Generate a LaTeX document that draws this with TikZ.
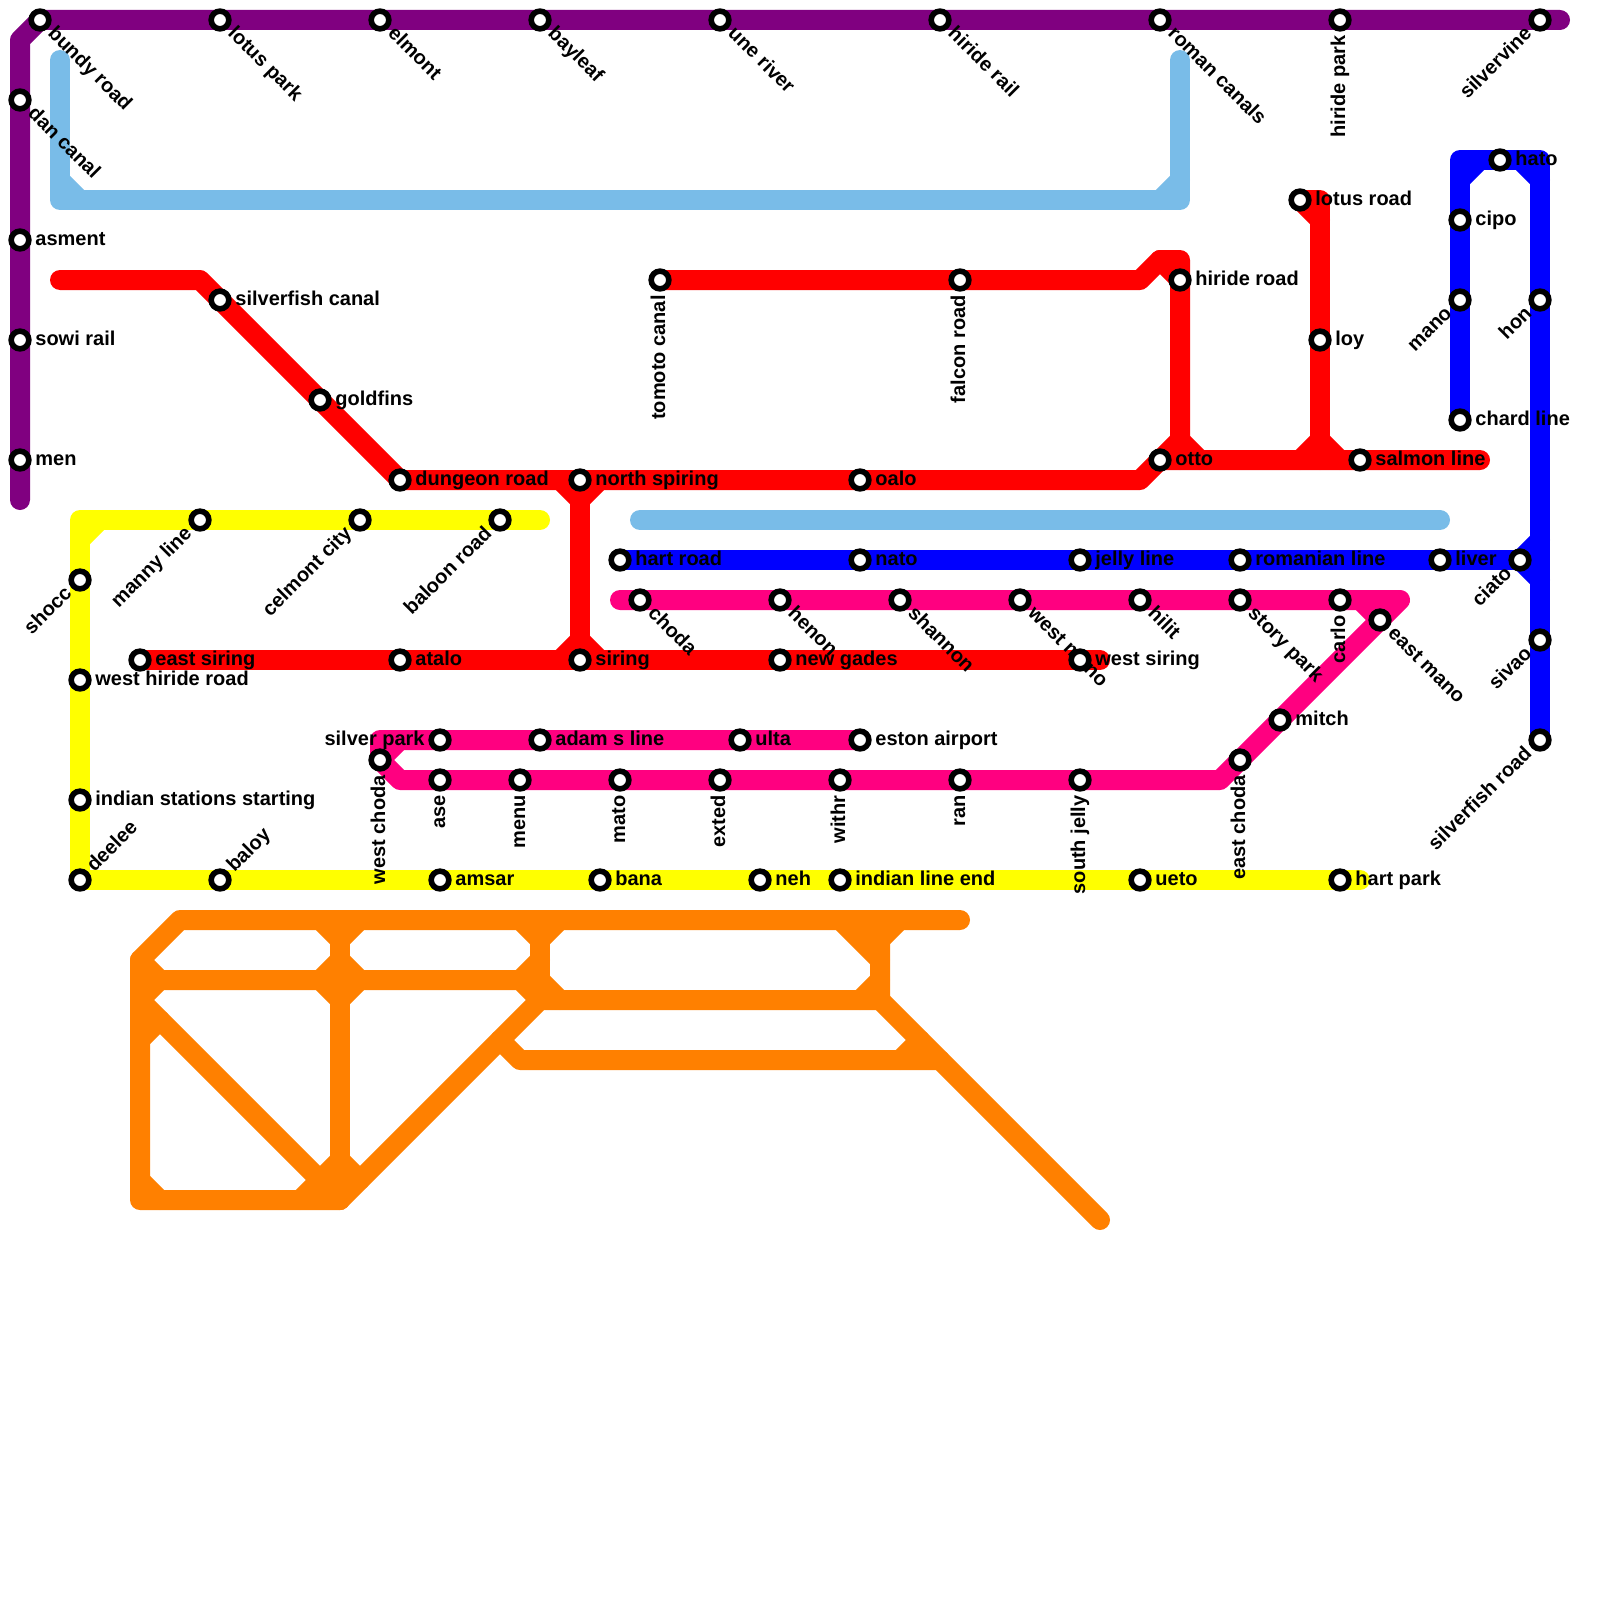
\documentclass[tikz,border=0pt]{standalone}
\usepackage{fontspec}
\setmainfont{Liberation Sans}
\usetikzlibrary{backgrounds}
\pgfdeclarelayer{stopLayer}
\pgfsetlayers{background,main,stopLayer}
\definecolor{mapPurple}{HTML}{800080}
\definecolor{mapSky}{HTML}{79BCE8}
\definecolor{mapRed}{HTML}{FF0000}
\definecolor{mapYellow}{HTML}{FFFF00}
\definecolor{mapBlue}{HTML}{0000FF}
\definecolor{mapPink}{HTML}{FF0080}
\definecolor{mapOrange}{HTML}{FF8000}
\newcommand{\stn}[4]{%
  \begin{pgfonlayer}{stopLayer}
    \node[stop] (#1) at (#2) {};
  \end{pgfonlayer}
  \node[#3] (#1Lbl) at (#1.center) {#4};}

\begin{document}
\begin{tikzpicture}[x=10pt, y=-10pt,
  route/.style={line width=10pt, line cap=round, line join=round},
  stop/.style={circle, draw=black, fill=white, line width=2.8pt, inner sep=0pt, minimum size=8.85pt},
  lbl/.style={font=\fontsize{10}{12}\selectfont\bfseries, text=black, inner sep=0pt},
  lblE/.style={lbl, anchor=base west, xshift=7.5pt, yshift=-2.6pt},
  lblW/.style={lbl, anchor=base east, xshift=-7.5pt, yshift=-2.6pt},
  lblSE/.style={lbl, rotate=-45, anchor=base west, xshift=7.5pt, yshift=-2.6pt},
  lblNE/.style={lbl, rotate=45, anchor=base west, xshift=7.5pt, yshift=-2.6pt},
  lblSW/.style={lbl, rotate=45, anchor=base east, xshift=-7.5pt, yshift=-2.6pt},
  lblS/.style={lbl, rotate=90, anchor=base east, xshift=-7.5pt, yshift=-2.6pt}]
\useasboundingbox (0,0) rectangle (80,80);

% purple
\stn{bundy}{2,1}{lblSE}{bundy road}
\stn{lotusPark}{11,1}{lblSE}{lotus park}
\stn{elmont}{19,1}{lblSE}{elmont}
\stn{bayleaf}{27,1}{lblSE}{bayleaf}
\stn{uneRiver}{36,1}{lblSE}{une river}
\stn{hirideRail}{47,1}{lblSE}{hiride rail}
\stn{romanCanals}{58,1}{lblSE}{roman canals}
\stn{hiridePark}{67,1}{lblS}{hiride park}
\stn{silvervine}{77,1}{lblSW}{silvervine}
\stn{danCanal}{1,5}{lblSE}{dan canal}
\stn{asment}{1,12}{lblE}{asment}
\stn{sowiRail}{1,17}{lblE}{sowi rail}
\stn{men}{1,23}{lblE}{men}
% red
\stn{silverfishCanal}{11,15}{lblE}{silverfish canal}
\stn{goldfins}{16,20}{lblE}{goldfins}
\stn{dungeonRoad}{20,24}{lblE}{dungeon road}
\stn{northSpiring}{29,24}{lblE}{north spiring}
\stn{oalo}{43,24}{lblE}{oalo}
\stn{otto}{58,23}{lblE}{otto}
\stn{salmonLine}{68,23}{lblE}{salmon line}
\stn{tomotoCanal}{33,14}{lblS}{tomoto canal}
\stn{falconRoad}{48,14}{lblS}{falcon road}
\stn{hirideRoad}{59,14}{lblE}{hiride road}
\stn{lotusRoad}{65,10}{lblE}{lotus road}
\stn{loy}{66,17}{lblE}{loy}
\stn{eastSiring}{7,33}{lblE}{east siring}
\stn{atalo}{20,33}{lblE}{atalo}
\stn{siring}{29,33}{lblE}{siring}
\stn{newGades}{39,33}{lblE}{new gades}
\stn{westSiring}{54,33}{lblE}{west siring}
% yellow
\stn{mannyLine}{10,26}{lblSW}{manny line}
\stn{celmontCity}{18,26}{lblSW}{celmont city}
\stn{baloonRoad}{25,26}{lblSW}{baloon road}
\stn{shocc}{4,29}{lblSW}{shocc}
\stn{westHirideRoad}{4,34}{lblE}{west hiride road}
\stn{indianStations}{4,40}{lblE}{indian stations starting}
\stn{deelee}{4,44}{lblNE}{deelee}
\stn{baloy}{11,44}{lblNE}{baloy}
\stn{amsar}{22,44}{lblE}{amsar}
\stn{bana}{30,44}{lblE}{bana}
\stn{neh}{38,44}{lblE}{neh}
\stn{indianLineEnd}{42,44}{lblE}{indian line end}
\stn{ueto}{57,44}{lblE}{ueto}
\stn{hartPark}{67,44}{lblE}{hart park}
% blue
\stn{hartRoad}{31,28}{lblE}{hart road}
\stn{nato}{43,28}{lblE}{nato}
\stn{jellyLine}{54,28}{lblE}{jelly line}
\stn{romanianLine}{62,28}{lblE}{romanian line}
\stn{liver}{72,28}{lblE}{liver}
\stn{ciato}{76,28}{lblSW}{ciato}
\stn{cipo}{73,11}{lblE}{cipo}
\stn{mano}{73,15}{lblSW}{mano}
\stn{chardLine}{73,21}{lblE}{chard line}
\stn{hato}{75,8}{lblE}{hato}
\stn{hon}{77,15}{lblSW}{hon}
\stn{sivao}{77,32}{lblSW}{sivao}
\stn{silverfishRoad}{77,37}{lblSW}{silverfish road}
% pink
\stn{choda}{32,30}{lblSE}{choda}
\stn{henon}{39,30}{lblSE}{henon}
\stn{shannon}{45,30}{lblSE}{shannon}
\stn{westMano}{51,30}{lblSE}{west mano}
\stn{hilit}{57,30}{lblSE}{hilit}
\stn{storyPark}{62,30}{lblSE}{story park}
\stn{carlo}{67,30}{lblS}{carlo}
\stn{eastMano}{69,31}{lblSE}{east mano}
\stn{mitch}{64,36}{lblE}{mitch}
\stn{eastChoda}{62,38}{lblS}{east choda}
\stn{silverPark}{22,37}{lblW}{silver park}
\stn{adamLine}{27,37}{lblE}{adam s line}
\stn{ulta}{37,37}{lblE}{ulta}
\stn{estonAirport}{43,37}{lblE}{eston airport}
\stn{westChoda}{19,38}{lblS}{west choda}
\stn{ase}{22,39}{lblS}{ase}
\stn{menu}{26,39}{lblS}{menu}
\stn{mato}{31,39}{lblS}{mato}
\stn{exted}{36,39}{lblS}{exted}
\stn{withr}{42,39}{lblS}{withr}
\stn{ran}{48,39}{lblS}{ran}
\stn{southJelly}{54,39}{lblS}{south jelly}

\begin{scope}[on background layer]
\draw[route, mapPurple] (1,25) -- (1,2) -- (bundy.center) -- (78,1);
% sky
\draw[route, mapSky] (3,3) -- (3,10) -- (59,10) -- (59,3);
\draw[route, mapSky] (3,9) -- (4,10) (58,10) -- (59,9);
\draw[route, mapSky] (32,26) -- (72,26);
% red
\draw[route, mapRed] (3,14) -- (10,14) -- (dungeonRoad.center) -- (57,24) -- (otto.center) -- (74,23);
\draw[route, mapRed] (northSpiring.center) -- (siring.center);
\draw[route, mapRed] (28,24) -- (29,25) -- (30,24) (28,33) -- (29,32) -- (30,33);
\draw[route, mapRed] (tomotoCanal.center) -- (57,14) -- (58,13) -- (59,13) -- (59,23);
\draw[route, mapRed] (58,13) -- (hirideRoad.center) (otto.center) -- (59,22) -- (60,23);
\draw[route, mapRed] (lotusRoad.center) -- (66,10) -- (66,23);
\draw[route, mapRed] (lotusRoad.center) -- (66,11) (65,23) -- (66,22) -- (67,23);
\draw[route, mapRed] (eastSiring.center) -- (55,33);
% yellow
\draw[route, mapYellow] (27,26) -- (4,26) -- (deelee.center) -- (68,44);
\draw[route, mapYellow] (4,27) -- (5,26);
% blue
\draw[route, mapBlue] (hartRoad.center) -- (ciato.center);
\draw[route, mapBlue] (chardLine.center) -- (73,8) -- (77,8) -- (silverfishRoad.center);
\draw[route, mapBlue] (73,9) -- (74,8) (76,8) -- (77,9);
\draw[route, mapBlue] (77,27) -- (ciato.center) -- (77,29);
% pink
\draw[route, mapPink] (31,30) -- (70,30) -- (61,39) -- (20,39) -- (westChoda.center) -- (19,37) -- (estonAirport.center);
\draw[route, mapPink] (68,30) -- (eastMano.center) (westChoda.center) -- (20,37);
% orange
\draw[route, mapOrange] (48,46) -- (9,46) -- (7,48) -- (7,60) -- (17,60) -- (27,50) -- (44,50) -- (44,46);
\draw[route, mapOrange] (44,50) -- (55,61);
\draw[route, mapOrange] (7,49) -- (26,49) -- (27,50);
\draw[route, mapOrange] (7,50) -- (17,60);
\draw[route, mapOrange] (17,46) -- (17,60);
\draw[route, mapOrange] (27,46) -- (27,50);
\draw[route, mapOrange] (25,52) -- (26,53) -- (47,53);
\draw[route, mapOrange] (7,48) -- (8,49) -- (7,50) (7,52) -- (8,51) (7,59) -- (8,60);
\draw[route, mapOrange] (16,46) -- (17,47) -- (18,46) (16,49) -- (17,48) -- (18,49) (16,49) -- (17,50) -- (18,49);
\draw[route, mapOrange] (15,60) -- (16,59) (17,58) -- (16,59) (17,58) -- (18,59);
\draw[route, mapOrange] (26,46) -- (27,47) -- (28,46) (26,49) -- (27,48) (27,49) -- (28,50);
\draw[route, mapOrange] (42,46) -- (44,48) (43,46) -- (44,47) -- (45,46) (43,50) -- (44,49) (45,53) -- (46,52);
\end{scope}
\end{tikzpicture}
\end{document}
